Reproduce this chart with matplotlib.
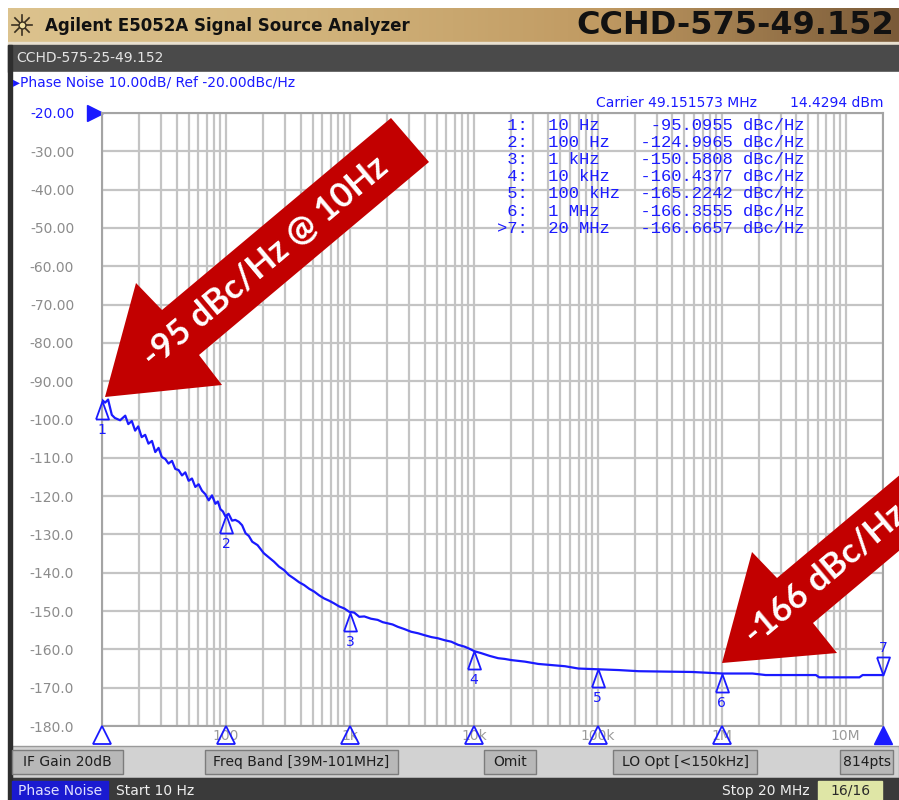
import numpy as np
import matplotlib
matplotlib.use('Agg')
import matplotlib.pyplot as plt
from matplotlib.colors import LinearSegmentedColormap
from matplotlib.patches import Rectangle, Polygon
from matplotlib.ticker import LogLocator, NullFormatter
from matplotlib.transforms import offset_copy, blended_transform_factory

# trace (offset frequency in Hz, phase noise in dBc/Hz)
freq_hz = [10, 10.6, 11.2, 12.0, 12.7, 14.0, 15.4, 16.3, 17.4, 18.5, 19.6, 20.9, 22.3, 23.7,
           25.3, 26.9, 28.6, 30.4, 32.4, 34.4, 36.7, 39.0, 41.5, 44.2, 47.0, 50.0, 53.2, 56.6,
           60.2, 64.1, 68.2, 72.6, 77.2, 82.2, 86.0, 90.2, 94.5, 99.0, 105, 112, 119, 127, 135,
           144, 153, 163, 180, 202, 222, 244, 268, 294, 322, 354, 390, 427, 470, 514, 565, 619,
           680, 746, 820, 899, 990, 1083, 1190, 1306, 1480, 1675, 1840, 2018, 2210, 2431, 2750,
           3118, 3550, 3999, 4550, 5129, 5800, 6577, 7450, 8433, 9300, 10150, 11500, 13400,
           15700, 17800, 20100, 25800, 33100, 42400, 54400, 69800, 101000, 147000, 214000,
           351000, 577000, 1.01e6, 1.77e6, 2.26e6, 3.5e6, 5.75e6, 6.12e6, 9.0e6, 1.29e7,
           1.37e7, 2.0e7]
noise_dbc = [-94.9, -95.6, -94.8, -98.8, -99.6, -100.2, -99.0, -101.2, -100.4, -102.9, -101.8,
             -104.6, -104.0, -106.3, -105.6, -108.5, -107.4, -109.8, -110.3, -111.5, -110.8,
             -112.9, -113.2, -114.6, -113.8, -116.0, -115.4, -117.6, -116.9, -118.6, -119.5,
             -121.1, -119.8, -122.0, -121.4, -123.4, -124.0, -125.3, -124.6, -126.4, -126.2,
             -126.7, -127.6, -129.7, -130.4, -131.9, -132.8, -134.9, -136.0, -137.1, -138.4,
             -139.3, -140.6, -141.5, -142.5, -143.2, -144.2, -144.9, -145.9, -146.7, -147.3,
             -148.0, -148.8, -149.3, -150.2, -150.4, -151.5, -151.4, -152.0, -152.3, -152.9,
             -153.2, -153.5, -154.1, -154.7, -155.4, -155.8, -156.3, -156.8, -157.1, -157.6,
             -158.0, -158.8, -159.3, -159.9, -160.5, -161.0, -161.7, -162.3, -162.5, -162.8,
             -163.2, -163.8, -164.1, -164.4, -165.0, -165.2, -165.4, -165.7, -165.8, -165.9,
             -166.3, -166.3, -166.7, -166.7, -166.7, -167.3, -167.3, -167.3, -166.7, -166.7]

# marker table
marker_num = [1, 2, 3, 4, 5, 6, 7]
marker_freq = [10, 100, 1e3, 1e4, 1e5, 1e6, 2e7]
marker_freq_text = ['10 Hz', '100 Hz', '1 kHz', '10 kHz', '100 kHz', '1 MHz', '20 MHz']
marker_val = [-95.0955, -124.9965, -150.5808, -160.4377, -165.2242, -166.3555, -166.6657]
active_marker = 7

ref_level = -20
y_ticks = list(range(-180, -19, 10))
x_ticks = [10, 100, 1e3, 1e4, 1e5, 1e6, 1e7]
x_tick_labels = ['', '100', '1k', '10k', '100k', '1M', '10M']

softkeys = ['IF Gain 20dB', 'Freq Band [39M-101MHz]', 'Omit', 'LO Opt [<150kHz]', '814pts']
softkey_x = [(12, 123), (205, 398), (484, 536), (613, 757), (840, 893)]

BLUE = '#1a1aff'
GRID = '#c4c4c4'
RED = '#c20000'

fig = plt.figure(figsize=(8.99, 8.0), dpi=100)
fig.patch.set_facecolor('white')

# background frame in pixel coordinates
bg = fig.add_axes([0, 0, 1, 1], zorder=0)
bg.set_xlim(0, 899)
bg.set_ylim(800, 0)
bg.axis('off')

grad = np.linspace(0, 1, 256).reshape(1, -1)
cmap = LinearSegmentedColormap.from_list('bar', ['#dcc38e', '#d2b47c', '#c09a62', '#7a5a38'])
bg.imshow(grad, cmap=cmap, extent=[8, 899, 42, 8], aspect='auto', zorder=1)
bg.add_patch(Rectangle((8, 42), 891, 3, color='#e8e0d0', zorder=1))
bg.add_patch(Rectangle((8, 45), 891, 27, color='#4a4a4a', zorder=1))
bg.add_patch(Rectangle((8, 72), 891, 675, color='white', zorder=1))
bg.add_patch(Rectangle((8, 45), 4, 755, color='#2e2e2e', zorder=2))
bg.add_patch(Rectangle((12, 746), 887, 32, facecolor='#d2d2d2', edgecolor='#9a9a9a', lw=1, zorder=1))
bg.add_patch(Rectangle((12, 778), 887, 22, color='#3a3a3a', zorder=1))

# starburst logo
for a in np.linspace(0, np.pi, 4, endpoint=False):
    bg.plot([22 - 10 * np.cos(a), 22 + 10 * np.cos(a)], [25 - 10 * np.sin(a), 25 + 10 * np.sin(a)],
            color='#3a3020', lw=1.2, zorder=3)
bg.plot([22], [25], 'o', ms=5, mfc='#f0e0a0', mec='#3a3020', zorder=4)

bg.text(45, 26, 'Agilent E5052A Signal Source Analyzer', fontsize=12, fontweight='bold',
        color='#111111', va='center', ha='left', zorder=3)
bg.text(894, 25, 'CCHD-575-49.152', fontsize=23, fontweight='bold', color='#111111',
        va='center', ha='right', zorder=3)
bg.text(16, 58, 'CCHD-575-25-49.152', fontsize=10, color='#e4e4e4', va='center', zorder=3)
bg.text(13, 83, '\u25b8Phase Noise 10.00dB/ Ref -20.00dBc/Hz', fontsize=10, color=BLUE,
        va='center', zorder=3)
bg.text(596, 103, 'Carrier 49.151573 MHz', fontsize=10, color=BLUE, va='center', zorder=3)
bg.text(884, 103, '14.4294 dBm', fontsize=10, color=BLUE, va='center', ha='right', zorder=3)

# soft keys
for label, (x0, x1) in zip(softkeys, softkey_x):
    bg.add_patch(Rectangle((x0, 750), x1 - x0, 24, facecolor='#b8b8b8', edgecolor='#7c7c7c',
                           lw=1, zorder=2))
    bg.text((x0 + x1) / 2, 762, label, fontsize=10, color='#1e1e1e', ha='center', va='center',
            zorder=3)

# status bar
bg.add_patch(Rectangle((12, 781), 96, 19, color='#1a1ad0', zorder=2))
bg.text(60, 791, 'Phase Noise', fontsize=10, color='#e0e0ff', ha='center', va='center', zorder=3)
bg.text(116, 791, 'Start 10 Hz', fontsize=10, color='#eeeeee', ha='left', va='center', zorder=3)
bg.text(810, 791, 'Stop 20 MHz', fontsize=10, color='#eeeeee', ha='right', va='center', zorder=3)
bg.add_patch(Rectangle((818, 781), 64, 19, color='#dfe6a6', zorder=2))
bg.text(850, 791, '16/16', fontsize=10, color='#2a2a2a', ha='center', va='center', zorder=3)

# measurement axes
ax = fig.add_axes([102 / 899, (800 - 726) / 800, 781 / 899, 613 / 800], zorder=2)
ax.set_facecolor('white')
ax.set_xscale('log')
ax.set_xlim(10, 2e7)
ax.set_ylim(-180, -20)
ax.xaxis.set_major_locator(LogLocator(base=10))
ax.xaxis.set_minor_locator(LogLocator(base=10, subs=np.arange(2, 10)))
ax.xaxis.set_minor_formatter(NullFormatter())
ax.set_xticks(x_ticks)
ax.set_xticklabels(x_tick_labels)
ax.set_yticks(y_ticks)
ax.set_yticklabels([f'{v:.2f}' if v > -100 else f'{v:.1f}' for v in y_ticks])
ax.tick_params(which='both', length=0)
ax.tick_params(axis='y', pad=20, labelsize=10, labelcolor='#8c8c8c')
ax.tick_params(axis='x', pad=2, labelsize=10, labelcolor='#9a9a9a')
ax.get_yticklabels()[-1].set_color(BLUE)
ax.grid(True, which='both', color=GRID, lw=1.6)
for s in ax.spines.values():
    s.set_color('#a4a4a4')
    s.set_linewidth(1.5)

ax.plot(freq_hz, noise_dbc, color=BLUE, lw=1.6, zorder=3)

# reference level pointer
ax.plot([-0.009], [ref_level], marker='>', ms=11, color=BLUE, clip_on=False,
        transform=blended_transform_factory(ax.transAxes, ax.transData))

# markers on the trace
tri = [(-0.36, -0.5), (0, 0.5), (0.36, -0.5), (-0.36, -0.5)]
tri_dn = [(-0.36, 0.5), (0, -0.5), (0.36, 0.5), (-0.36, 0.5)]
below = offset_copy(ax.transData, fig=fig, x=0, y=-9, units='dots')
above = offset_copy(ax.transData, fig=fig, x=0, y=9, units='dots')
for n, f, v in zip(marker_num, marker_freq, marker_val):
    if n == active_marker:
        ax.plot([f], [v], marker=tri_dn, ms=13, mfc='none', mec=BLUE, mew=1.3,
                transform=above, clip_on=False, zorder=4)
        ax.annotate(str(n), (f, v), xytext=(0, 27), textcoords='offset pixels', ha='center',
                    va='center', fontsize=10, color=BLUE, annotation_clip=False)
    else:
        ax.plot([f], [v], marker=tri, ms=13, mfc='none', mec=BLUE, mew=1.3,
                transform=below, clip_on=False, zorder=4)
        ax.annotate(str(n), (f, v), xytext=(0, -29), textcoords='offset pixels', ha='center',
                    va='center', fontsize=10, color=BLUE, annotation_clip=False)

# stimulus markers under the axis
for n, f in zip(marker_num, marker_freq):
    if n == active_marker:
        ax.plot([f], [-182.4], marker='^', ms=13, color=BLUE, clip_on=False, zorder=5)
    else:
        ax.plot([f], [-182.4], marker='^', ms=13, mfc='none', mec=BLUE, mew=1.3,
                clip_on=False, zorder=5)

# overlay: marker table and call-out arrows
ov = fig.add_axes([0, 0, 1, 1], zorder=5)
ov.set_xlim(0, 899)
ov.set_ylim(800, 0)
ov.axis('off')
ov.patch.set_alpha(0)

for i, (n, ft, v) in enumerate(zip(marker_num, marker_freq_text, marker_val)):
    lab = ('>' if n == active_marker else '') + f'{n}:'
    row = f'{lab:>3}  {ft:<9}{v:>9.4f} dBc/Hz'
    ov.text(497, 125 + i * 17.2, row, family='Liberation Mono', fontsize=12.3, color=BLUE,
            va='center', ha='left')

arrow1 = [(105, 397), (222, 385), (199, 355), (429, 162), (391, 118), (162, 310), (136, 283)]
arrow2 = [(722, 663), (837, 653), (813, 623), (1043, 430), (1007, 385), (777, 578), (752, 552)]
ov.add_patch(Polygon(arrow1, closed=True, color=RED, lw=0))
ov.add_patch(Polygon(arrow2, closed=True, color=RED, lw=0))
ov.text(147, 361, '-95 dBc/Hz @ 10Hz', family='Lato', fontweight='bold', fontsize=25,
        color='white', rotation=40, rotation_mode='anchor', ha='left', va='center')
ov.text(749, 638, '-166 dBc/Hz', family='Lato', fontweight='bold', fontsize=25,
        color='white', rotation=40, rotation_mode='anchor', ha='left', va='center')

fig.savefig('out.png', dpi=100)
